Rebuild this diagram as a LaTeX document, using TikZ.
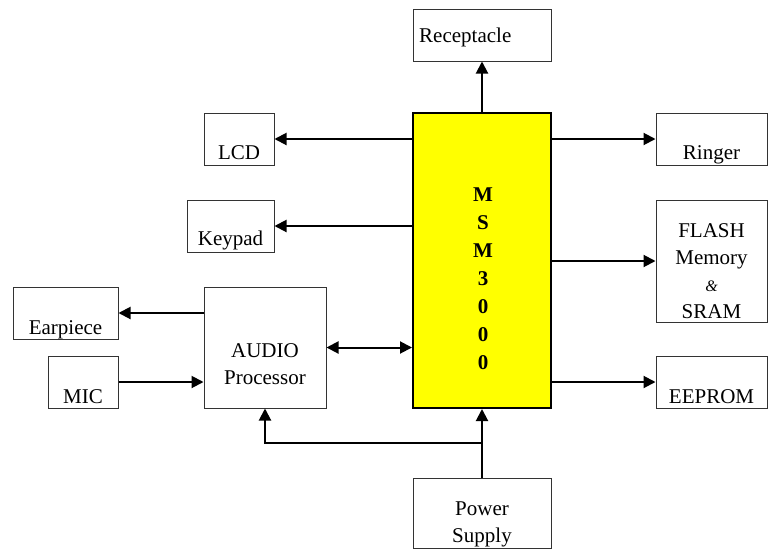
\documentclass[tikz,border=0pt]{standalone}
\usepackage{fontspec}
\setmainfont{Liberation Serif}
\usepackage{tikz}
\usetikzlibrary{arrows.meta,calc,positioning}
\definecolor{ChipYellow}{HTML}{FFFF00}
\definecolor{Frame}{HTML}{333333}

\begin{document}
\begin{tikzpicture}[x=1pt,y=-1pt,
    blockbox/.style={draw=Frame,line width=1pt,inner sep=0pt},
    blocktext/.style={anchor=base,align=center,inner sep=0pt,font=\fontsize{21}{27}\selectfont},
    sig/.style={line width=2pt,-{Triangle[length=12pt,width=12pt]}}]
  \useasboundingbox (0,0) rectangle (768,549);

  % boxes
  \node[blockbox,fill=ChipYellow,draw=black,line width=2pt,minimum width=138pt,minimum height=295pt] (msm) at (482,260.5) {};
  \node[blockbox,minimum width=138pt,minimum height=52pt] (recep) at (482,35) {};
  \node[blockbox,minimum width=70pt,minimum height=52pt] (lcd) at (239,139) {};
  \node[blockbox,minimum width=87pt,minimum height=52pt] (keypad) at (230.5,226) {};
  \node[blockbox,minimum width=111pt,minimum height=52pt] (ringer) at (711.5,139) {};
  \node[blockbox,minimum width=111pt,minimum height=122pt] (flash) at (711.5,261) {};
  \node[blockbox,minimum width=111pt,minimum height=52pt] (eeprom) at (711.5,382) {};
  \node[blockbox,minimum width=105pt,minimum height=52pt] (earpiece) at (65.5,313) {};
  \node[blockbox,minimum width=70pt,minimum height=52pt] (mic) at (83,382) {};
  \node[blockbox,minimum width=122pt,minimum height=121pt] (audio) at (265,347.5) {};
  \node[blockbox,minimum width=138pt,minimum height=70pt] (power) at (482,513) {};

  % texts (base = last line)
  \node[blocktext,anchor=base west] (recepT) at (419,42) {Receptacle};
  \node[blocktext] (lcdT) at (239,159) {LCD};
  \node[blocktext] (keypadT) at (230.5,245) {Keypad};
  \node[blocktext] (ringerT) at (711.5,159) {Ringer};
  \node[blocktext] (flashT) at (711.5,318) {FLASH\\Memory\\{\fontsize{16}{27}\selectfont\itshape\&}\\SRAM};
  \node[blocktext] (eepromT) at (711.5,403) {EEPROM};
  \node[blocktext] (earpieceT) at (65.5,334) {Earpiece};
  \node[blocktext] (micT) at (83,403) {MIC};
  \node[blocktext] (audioT) at (265,384) {AUDIO\\Processor};
  \node[blocktext] (powerT) at (482,542) {Power\\Supply};
  \node[blocktext,font=\fontsize{21}{28}\selectfont\bfseries] (msmT) at (483,369) {M\\S\\M\\3\\0\\0\\0};

  % connectors
  \draw[sig] (msm.north) -- (recep.south);
  \draw[sig] (msm.west |- lcd.east) -- (lcd.east);
  \draw[sig] (msm.west |- keypad.east) -- (keypad.east);
  \draw[sig] (msm.east |- ringer.west) -- (ringer.west);
  \draw[sig] (msm.east |- flash.west) -- (flash.west);
  \draw[sig] (msm.east |- eeprom.west) -- (eeprom.west);
  \draw[sig,{Triangle[length=12pt,width=12pt]}-{Triangle[length=12pt,width=12pt]}] (audio.east) -- (audio.east -| msm.west);
  \draw[sig] (audio.west |- earpiece.east) -- (earpiece.east);
  \draw[sig] (mic.east) -- (audio.west |- mic.east);
  \draw[sig] (power.north) -- (msm.south);
  \coordinate (split) at (482,443);
  \draw[sig] (split) -| (audio.south);
\end{tikzpicture}
\end{document}
